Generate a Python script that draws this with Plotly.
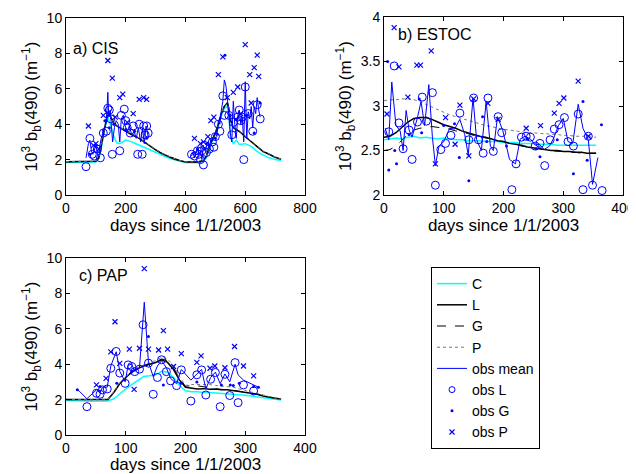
import plotly.graph_objects as go

# ---- a) CIS ----
days_a = [0, 20, 40, 60, 80, 100, 110, 120, 130, 140, 150, 160, 170, 180, 200, 220, 240, 260, 280, 300,
          320, 340, 360, 380, 400, 420, 440, 460, 470, 480, 490, 500, 510, 520, 530, 540, 545, 550, 560, 570,
          580, 600, 620, 640, 660, 680, 700, 720]
C_a = [1.83, 1.83, 1.83, 1.83, 1.84, 1.86, 2.05, 2.8, 3.8, 4.4, 3.9, 3.3, 2.95, 2.9, 3.1, 3.0, 2.85, 2.7, 2.55, 2.4,
       2.25, 2.12, 2.0, 1.9, 1.83, 1.82, 1.82, 1.9, 2.1, 2.6, 3.0, 3.4, 3.9, 4.5, 4.9, 5.0, 4.6, 3.3, 2.9, 3.1,
       2.85, 2.9, 2.75, 2.45, 2.25, 2.1, 2.0, 1.95]
L_a = [1.88, 1.88, 1.88, 1.88, 1.88, 1.9, 2.1, 2.9, 3.9, 4.7, 4.4, 4.05, 3.9, 3.8, 3.6, 3.4, 3.25, 3.0, 2.75, 2.55,
       2.35, 2.2, 2.05, 1.95, 1.87, 1.86, 1.86, 1.95, 2.2, 2.75, 3.1, 3.5, 4.0, 4.6, 5.0, 5.2, 4.9, 4.25, 3.8, 3.7,
       3.6, 3.3, 3.0, 2.75, 2.45, 2.3, 2.13, 2.02]
G_a = [1.88, 1.88, 1.88, 1.88, 1.88, 1.9, 2.12, 2.95, 3.95, 4.72, 4.45, 4.1, 3.92, 3.82, 3.62, 3.42, 3.27, 3.02, 2.77, 2.56,
       2.36, 2.21, 2.06, 1.95, 1.87, 1.86, 1.86, 1.96, 2.22, 2.78, 3.12, 3.52, 4.02, 4.62, 5.02, 5.22, 4.95, 4.3, 3.85, 3.72,
       3.62, 3.32, 3.02, 2.77, 2.47, 2.31, 2.14, 2.02]
P_a = [1.89, 1.89, 1.89, 1.89, 1.89, 1.91, 2.12, 2.92, 3.92, 4.68, 4.42, 4.08, 3.93, 3.83, 3.63, 3.44, 3.28, 3.03, 2.78, 2.58,
       2.38, 2.22, 2.07, 1.96, 1.88, 1.87, 1.87, 1.96, 2.21, 2.76, 3.11, 3.51, 4.01, 4.6, 5.0, 5.18, 4.92, 4.28, 3.83, 3.73,
       3.63, 3.33, 3.03, 2.78, 2.48, 2.32, 2.15, 2.03]
mean_a_d = [67, 75, 80, 85, 90, 95, 100, 105, 110, 118, 125, 130, 135, 140, 143, 148, 152, 156, 162, 168, 175, 180,
            185, 192, 198, 205, 212, 220, 228, 235, 242, 250, 256, 262, 268, 275, None,
            420, 425, 430, 435, 440, 445, 450, 455, 460, 465, 470, 475, 480, 485, 490, 495, 500, 505, 510, 515, 520,
            525, 530, 535, 540, 545, 550, 555, 560, 565, 570, 575, 580, 585, 590, 595, 600, 605, 610, 615, 620, 625,
            630, 635, 640, 645, 650]
mean_a_v = [2.1, 2.9, 3.1, 2.5, 2.3, 2.6, 2.8, 2.4, 2.5, 3.2, 3.6, 3.8, 4.1, 5.8, 4.4, 4.8, 3.9, 3.0, 3.8, 4.2, 4.0, 3.0,
            4.3, 4.5, 3.9, 3.6, 3.9, 3.4, 3.6, 3.2, 3.8, 3.0, 3.8, 2.9, 3.9, 3.3, None,
            2.2, 2.4, 2.1, 2.5, 2.7, 2.3, 2.5, 2.0, 2.8, 2.5, 2.7, 3.0, 2.6, 3.2, 3.1, 3.4, 3.5, 3.3, 4.2, 4.0, 4.8,
            5.3, 6.5, 6.2, 5.5, 4.3, 3.5, 3.0, 5.3, 4.0, 3.2, 4.5, 4.8, 4.0, 4.4, 3.0, 6.4, 3.2, 4.7, 4.3, 5.0, 3.8,
            5.0, 4.6, 5.5, 4.8, 4.4]
obsL_a_d = [67, 80, 88, 95, 105, 115, 125, 135, 140, 145, 150, 155, 180, 185, 195, 200, 205, 215, 225, 240, 245, 255,
            260, 265, 270, 275, 420, 430, 440, 445, 450, 455, 460, 465, 470, 480, 490, 495, 500, 510, 515, 525, 530,
            545, 555, 560, 575, 580, 585, 590, 595, 600, 610, 625, 640, 650]
obsL_a_v = [1.6, 3.2, 2.3, 2.2, 2.6, 2.1, 3.5, 3.6, 4.9, 4.8, 4.3, 2.3, 2.5, 4.5, 4.85, 4.2, 3.8, 3.5, 3.9, 2.3, 4.0, 2.3,
            3.9, 3.4, 3.9, 3.5, 2.3, 2.2, 2.5, 2.3, 2.0, 2.5, 1.7, 2.8, 2.4, 2.6, 3.0, 2.7, 3.3, 4.0, 3.6, 5.6, 4.5,
            4.5, 3.4, 4.1, 4.4, 4.8, 4.2, 4.4, 2.0, 6.1, 4.6, 3.6, 5.1, 4.3]
obsG_a_d = [80, 100, 130, 145, 160, 200, 230, 270, 440, 470, 500, 532, 550, 570, 605, 630, 650]
obsG_a_v = [2.3, 2.8, 4.2, 3.8, 4.0, 3.7, 3.6, 3.2, 2.6, 2.9, 3.2, 7.9, 4.5, 4.3, 4.5, 3.5, 5.2]
obsP_a_d = [75, 92, 100, 110, 125, 140, 155, 165, 180, 190, 205, 225, 245, 260, 270, 430, 450, 460, 475, 485,
            495, 510, 525, 540, 560, 575, 585, 600, 615, 620, 630, 640, 645]
obsP_a_v = [3.9, 2.8, 2.9, 2.6, 4.5, 7.6, 6.6, 4.4, 5.5, 5.7, 4.1, 4.6, 5.4, 5.5, 5.4, 3.2, 2.9, 3.0, 3.3, 4.2,
            4.4, 6.8, 7.8, 5.5, 5.8, 6.1, 4.6, 8.5, 6.8, 5.2, 7.2, 7.9, 6.7]

# ---- b) ESTOC ----
days_b = [0, 10, 20, 30, 40, 50, 60, 70, 80, 90, 100, 110, 120, 130, 140, 150, 160, 170, 180, 190,
          200, 210, 220, 230, 240, 250, 260, 270, 280, 290, 300, 310, 320, 330, 340, 350, 355]
C_b = [2.62, 2.63, 2.64, 2.63, 2.65, 2.66, 2.64, 2.65, 2.64, 2.63, 2.64, 2.63, 2.62, 2.62, 2.61, 2.61, 2.61, 2.6, 2.6, 2.6,
       2.59, 2.59, 2.59, 2.58, 2.58, 2.58, 2.57, 2.57, 2.57, 2.56, 2.56, 2.56, 2.56, 2.56, 2.56, 2.56, 2.56]
L_b = [2.65, 2.66, 2.7, 2.76, 2.82, 2.86, 2.87, 2.87, 2.85, 2.82, 2.79, 2.77, 2.75, 2.72, 2.7, 2.68, 2.66, 2.65, 2.63, 2.61,
       2.6, 2.58, 2.57, 2.56, 2.54, 2.53, 2.52, 2.51, 2.5, 2.5, 2.49, 2.49, 2.48, 2.48, 2.47, 2.47, 2.47]
G_b = [2.5, 2.51, 2.55, 2.62, 2.68, 2.73, 2.75, 2.76, 2.77, 2.76, 2.75, 2.74, 2.72, 2.71, 2.69, 2.67, 2.66, 2.64, 2.63, 2.61,
       2.6, 2.58, 2.57, 2.55, 2.54, 2.53, 2.52, 2.51, 2.5, 2.49, 2.49, 2.48, 2.48, 2.47, 2.47, 2.47, 2.47]
P_b = [3.06, 3.07, 3.07, 3.08, 3.08, 3.07, 3.05, 3.02, 2.99, 2.96, 2.93, 2.9, 2.88, 2.86, 2.84, 2.82, 2.8, 2.78, 2.77, 2.75,
       2.74, 2.73, 2.72, 2.71, 2.7, 2.7, 2.69, 2.69, 2.68, 2.68, 2.67, 2.67, 2.66, 2.66, 2.66, 2.65, 2.65]
mean_b_d = [2, 8, 13, 20, 27, 32, 37, 42, 47, 56, 62, 68, 75, 81, 86, 92, 100, 110, 118, 127, 135, 141, 149, 155, 163,
            171, 178, 183, 190, 199, 210, 220, 228, 236, 245, 253, 260, 268, 277, 284, 292, 300, 308, 316, 325,
            333, 342, 349, 358]
mean_b_v = [2.75, 2.62, 3.27, 2.78, 2.72, 2.5, 2.95, 2.73, 2.65, 2.87, 3.05, 2.78, 3.24, 2.65, 2.33, 2.55, 2.6, 2.75,
            2.74, 2.85, 2.68, 2.45, 3.09, 2.62, 2.5, 3.05, 2.55, 2.5, 2.88, 2.72, 2.4, 2.35, 2.63, 2.66, 2.63, 2.56,
            2.57, 2.51, 2.55, 2.64, 2.78, 2.86, 2.6, 2.58, 3.02, 2.75, 2.62, 2.12, 2.42]
obsL_b_d = [8, 17, 25, 32, 42, 47, 56, 64, 71, 81, 86, 95, 103, 112, 127, 142, 150, 158, 166, 174, 183, 191, 197,
            214, 221, 230, 238, 245, 253, 261, 269, 278, 285, 293, 302, 308, 317, 325, 333, 342, 349, 365]
obsL_b_v = [2.71, 3.45, 2.81, 2.52, 2.73, 2.4, 2.82, 3.1, 2.83, 3.15, 2.11, 2.51, 2.58, 2.67, 2.92, 2.62, 3.09, 2.62,
            2.47, 3.09, 2.49, 2.88, 2.7, 2.06, 2.35, 2.65, 2.66, 2.65, 2.55, 2.58, 2.33, 2.62, 2.74, 2.79, 2.87, 2.6,
            2.55, 2.91, 2.06, 2.66, 2.11, 2.05]
obsG_b_d = [6, 8, 18, 21, 42, 59, 63, 100, 118, 126, 142, 165, 172, 205, 240, 255, 261, 290, 317, 333, 340, 364]
obsG_b_v = [3.5, 2.28, 2.5, 2.35, 2.68, 3.08, 2.7, 2.78, 2.8, 2.42, 2.16, 2.88, 2.6, 2.55, 2.63, 2.52, 2.43, 2.62,
            2.24, 3.05, 2.39, 2.79]
obsP_b_d = [5, 17, 25, 40, 55, 61, 79, 86, 103, 119, 127, 142, 150, 174, 191, 238, 262, 285, 293, 301, 325, 342]
obsP_b_v = [2.91, 3.88, 3.44, 3.1, 3.46, 3.46, 3.62, 2.35, 2.87, 2.57, 3.01, 2.44, 3.08, 3.03, 2.85, 2.75, 2.78,
            2.92, 3.03, 3.09, 3.28, 2.66]

# ---- c) PAP ----
days_c = [0, 10, 20, 30, 40, 50, 60, 70, 80, 90, 100, 110, 120, 130, 140, 150, 160, 170, 180, 190,
          200, 210, 220, 230, 240, 250, 260, 270, 280, 290, 300, 310, 320, 330, 340, 350, 360]
C_c = [1.95, 1.95, 1.93, 1.92, 1.9, 1.9, 1.9, 1.92, 2.05, 2.35, 2.6, 2.85, 3.1, 3.3, 3.35, 3.4, 3.6, 3.55, 3.25, 2.8,
       2.5, 2.45, 2.45, 2.4, 2.4, 2.38, 2.35, 2.35, 2.3, 2.28, 2.25, 2.2, 2.15, 2.1, 2.05, 2.0, 1.98]
L_c = [2.0, 2.0, 1.98, 1.97, 1.96, 1.96, 1.97, 2.0, 2.4, 2.9, 3.25, 3.55, 3.75, 3.9, 4.0, 4.1, 4.25, 4.1, 3.7, 3.1,
       2.7, 2.65, 2.6, 2.62, 2.58, 2.6, 2.55, 2.55, 2.5, 2.45, 2.4, 2.35, 2.3, 2.2, 2.12, 2.07, 2.03]
G_c = [2.0, 2.0, 1.98, 1.97, 1.96, 1.96, 1.97, 2.0, 2.42, 2.93, 3.28, 3.58, 3.78, 3.93, 4.03, 4.12, 4.3, 4.2, 3.8, 3.2,
       2.75, 2.8, 2.78, 2.72, 2.65, 2.62, 2.58, 2.56, 2.52, 2.47, 2.42, 2.36, 2.3, 2.22, 2.14, 2.08, 2.04]
P_c = [2.01, 2.01, 1.99, 1.98, 1.97, 1.97, 1.98, 2.02, 2.45, 2.96, 3.3, 3.6, 3.82, 3.98, 4.1, 4.2, 4.4, 4.3, 3.9, 3.3,
       2.8, 2.85, 2.85, 2.85, 2.85, 2.8, 2.78, 2.75, 2.7, 2.6, 2.5, 2.42, 2.35, 2.25, 2.15, 2.08, 2.04]
mean_c_d = [20, 35, 51, 57, 61, 69, 75, 84, 90, 99, 104, 110, 115, 123, 131, 138, 146, 153, 160, 168, 175, 185, 193,
            209, 219, 227, 234, 242, 250, 258, 266, 274, 283, 288, 297, 314, 322]
mean_c_v = [2.55, 2.05, 2.55, 2.4, 2.7, 2.7, 3.9, 4.7, 3.6, 3.0, 3.95, 4.0, 3.6, 3.8, 7.5, 4.1, 3.3, 3.9, 4.2, 3.8, 3.2,
            2.9, 3.7, 3.1, 3.45, 3.7, 2.6, 3.25, 3.55, 2.9, 3.45, 3.0, 4.0, 3.4, 3.1, 2.8, 2.7]
obsL_c_d = [35, 51, 57, 61, 69, 75, 84, 90, 99, 104, 110, 115, 123, 129, 138, 146, 153, 160, 168, 175, 185, 193, 209,
            219, 227, 234, 242, 250, 258, 266, 274, 283, 288, 297, 314]
obsL_c_v = [1.6, 2.36, 2.3, 2.55, 2.6, 3.77, 4.72, 3.5, 2.92, 3.96, 3.87, 3.58, 3.72, 6.23, 4.06, 2.3, 3.25, 4.25,
            3.58, 3.06, 2.79, 3.68, 1.92, 3.4, 3.68, 2.26, 3.15, 3.53, 1.6, 3.43, 2.23, 4.09, 1.83, 2.83, 2.49]
obsG_c_d = [19, 57, 85, 110, 138, 163, 193, 219, 260, 275, 280, 290, 314, 322]
obsG_c_v = [2.55, 2.74, 2.92, 3.58, 5.57, 2.83, 2.92, 3.0, 2.83, 2.83, 2.8, 2.92, 2.74, 2.7]
obsP_c_d = [51, 67, 75, 82, 90, 106, 114, 123, 131, 138, 155, 163, 170, 180, 193, 219, 226, 241, 249, 266, 282, 297, 314]
obsP_c_v = [2.83, 3.2, 4.7, 6.4, 4.05, 4.85, 2.58, 4.9, 9.4, 4.85, 4.8, 5.9, 4.85, 3.87, 4.6, 4.1, 4.47, 3.77, 3.9,
            3.8, 5.0, 3.9, 3.34]

BLUE = "#0000ff"
FONT = "Liberation Sans, Arial, Helvetica, sans-serif"

# line / marker styles, shared by the panels and the legend
styles = {
    "C": dict(mode="lines", line=dict(color="#00ffff", width=1.5)),
    "L": dict(mode="lines", line=dict(color="black", width=1.5)),
    "G": dict(mode="lines", line=dict(color="black", width=1, dash="dash")),
    "P": dict(mode="lines", line=dict(color="#777777", width=1, dash="dot")),
    "obs mean": dict(mode="lines", line=dict(color=BLUE, width=1)),
    "obs L": dict(mode="markers", marker=dict(symbol="circle-open", size=8, color=BLUE, line=dict(width=1))),
    "obs G": dict(mode="markers", marker=dict(symbol="circle", size=3, color=BLUE)),
    "obs P": dict(mode="markers", marker=dict(symbol="x-thin-open", size=5, color=BLUE, line=dict(width=1.2))),
}
legend_marker = {
    "obs L": dict(symbol="circle-open", size=6, color=BLUE, line=dict(width=1)),
    "obs G": dict(symbol="circle", size=3, color=BLUE),
    "obs P": dict(symbol="x-thin-open", size=5, color=BLUE, line=dict(width=1.2)),
}

fig = go.Figure()


def add_panel(n, series):
    xa, ya = ("x", "y") if n == 1 else (f"x{n}", f"y{n}")
    for name, (xs, ys) in series.items():
        fig.add_trace(go.Scatter(x=xs, y=ys, name=name, xaxis=xa, yaxis=ya, showlegend=False,
                                 hoverinfo="x+y", **styles[name]))


add_panel(1, {"C": (days_a, C_a), "L": (days_a, L_a), "G": (days_a, G_a), "P": (days_a, P_a),
              "obs mean": (mean_a_d, mean_a_v), "obs L": (obsL_a_d, obsL_a_v),
              "obs G": (obsG_a_d, obsG_a_v), "obs P": (obsP_a_d, obsP_a_v)})
add_panel(2, {"C": (days_b, C_b), "L": (days_b, L_b), "G": (days_b, G_b), "P": (days_b, P_b),
              "obs mean": (mean_b_d, mean_b_v), "obs L": (obsL_b_d, obsL_b_v),
              "obs G": (obsG_b_d, obsG_b_v), "obs P": (obsP_b_d, obsP_b_v)})
add_panel(3, {"C": (days_c, C_c), "L": (days_c, L_c), "G": (days_c, G_c), "P": (days_c, P_c),
              "obs mean": (mean_c_d, mean_c_v), "obs L": (obsL_c_d, obsL_c_v),
              "obs G": (obsG_c_d, obsG_c_v), "obs P": (obsP_c_d, obsP_c_v)})

# legend-only entries (smaller symbols, like the matlab legend)
for name, st in styles.items():
    st = dict(st)
    if name in legend_marker:
        st["marker"] = legend_marker[name]
    fig.add_trace(go.Scatter(x=[None], y=[None], name=name, legendgroup=name, showlegend=True, **st))

# the page body has an 8px margin, so the figure is drawn 8px in from the corner
OFF = 8
W, H = 636 - OFF, 474 - OFF


def fx(px):
    return (px - OFF) / W


def fy(py):
    return 1 - (py - OFF) / H


ytitle = "10<sup>3</sup> b<sub>b</sub>(490) (m<sup>−1</sup>)"
axis_style = dict(showline=True, linecolor="black", linewidth=1, mirror="ticks", ticks="inside",
                  ticklen=4, tickcolor="black", showgrid=False, zeroline=False, automargin=False,
                  tickfont=dict(size=14, color="black"))


def xax(x0, x1, y_anchor, rng, dtick):
    return dict(domain=[fx(x0), fx(x1)], anchor=y_anchor, range=rng, dtick=dtick,
                title=dict(text="days since 1/1/2003", font=dict(size=17, color="black"), standoff=0),
                **axis_style)


def yax(y0, y1, x_anchor, rng, dtick):
    return dict(domain=[fy(y1), fy(y0)], anchor=x_anchor, range=rng, dtick=dtick,
                title=dict(text=ytitle, font=dict(size=17, color="black"), standoff=4),
                **axis_style)


def panel_label(text, n, x, y):
    xr, yr = ("x domain", "y domain") if n == 1 else (f"x{n} domain", f"y{n} domain")
    return dict(text=text, xref=xr, yref=yr, x=x, y=y, showarrow=False,
                xanchor="left", yanchor="middle", font=dict(size=16, color="black"))


fig.update_layout(
    width=W, height=H,
    margin=dict(l=0, r=0, t=0, b=0),
    paper_bgcolor="white", plot_bgcolor="white",
    font=dict(family=FONT, color="black"),
    showlegend=True,
    xaxis=xax(66, 305, "y", [0, 800], 200),
    yaxis=yax(18, 195, "x", [0, 10], 2),
    xaxis2=xax(384, 623, "y2", [0, 400], 100),
    yaxis2=yax(17, 195, "x2", [2, 4], 0.5),
    xaxis3=xax(66, 305, "y3", [0, 400], 100),
    yaxis3=yax(258, 435, "x3", [0, 10], 2),
    legend=dict(x=fx(431), y=fy(267), xanchor="left", yanchor="top",
                bordercolor="black", borderwidth=1, bgcolor="white",
                font=dict(size=14, color="black"), tracegroupgap=0, itemwidth=30,
                traceorder="normal"),
    annotations=[
        panel_label("a) CIS", 1, 0.02, 0.83),
        panel_label("b) ESTOC", 2, 0.05, 0.9),
        panel_label("c) PAP", 3, 0.045, 0.9),
    ],
)

fig.write_html("out.html")
